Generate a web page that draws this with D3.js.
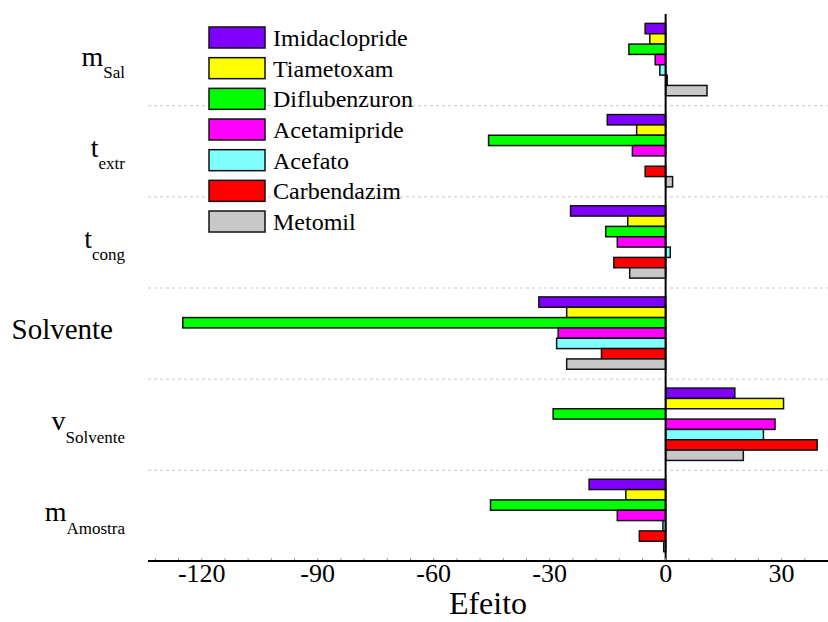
<!DOCTYPE html>
<html>
<head>
<meta charset="utf-8">
<script src="https://cdn.jsdelivr.net/npm/d3@7"></script>
</head>
<body style="margin:0">
<script>
// factors (top to bottom), main letter + subscript
const factors = ['mSal', 'textr', 'tcong', 'Solvente', 'vSolvente', 'mAmostra'];
const factorMain = ['m', 't', 't', 'Solvente', 'v', 'm'];
const factorSub = ['Sal', 'extr', 'cong', '', 'Solvente', 'Amostra'];

const series = ['Imidaclopride', 'Tiametoxam', 'Diflubenzuron', 'Acetamipride', 'Acefato', 'Carbendazim', 'Metomil'];
const colors = ['#8000ff', '#ffff00', '#00ff00', '#ff00ff', '#80ffff', '#ff0000', '#c8c8c8'];

// effect per factor, one array per pesticide
const imidaclopride = [-5.3, -15.1, -24.6, -32.8, 17.9, -19.8];
const tiametoxam    = [-4.1, -7.5, -9.8, -25.6, 30.5, -10.3];
const diflubenzuron = [-9.5, -45.8, -15.5, -124.9, -29.1, -45.3];
const acetamipride  = [-2.7, -8.6, -12.5, -27.8, 28.3, -12.5];
const acefato       = [-1.5, 0, 1.2, -28.2, 25.3, -0.7];
const carbendazim   = [0.4, -5.3, -13.4, -16.6, 39.2, -6.8];
const metomil       = [10.7, 1.8, -9.3, -25.6, 20.1, -0.5];
const values = [imidaclopride, tiametoxam, diflubenzuron, acetamipride, acefato, carbendazim, metomil];

const xTicks = [-120, -90, -60, -30, 0, 30];

const W = 828, H = 622;
const margin = { top: 14, bottom: 61, left: 148, right: 0 };
const serif = '"Liberation Serif", "Times New Roman", serif';

const svg = d3.select('body').append('svg')
  .attr('width', W)
  .attr('height', H)
  .style('font-family', serif);

const x = d3.scaleLinear()
  .domain([-133.9, 42])
  .range([margin.left, W - margin.right]);

const yGroup = d3.scaleBand()
  .domain(factors)
  .range([margin.top, H - margin.bottom])
  .padding(0);

const yInner = d3.scaleBand()
  .domain(series)
  .range([0, yGroup.bandwidth()])
  .paddingInner(0)
  .paddingOuter(0.91);

// dotted separators between factor groups
svg.append('g')
  .selectAll('line')
  .data(factors.slice(1))
  .join('line')
  .attr('x1', margin.left)
  .attr('x2', W)
  .attr('y1', d => yGroup(d) + 0.5)
  .attr('y2', d => yGroup(d) + 0.5)
  .attr('stroke', '#c8c8c8')
  .attr('stroke-width', 1)
  .attr('stroke-dasharray', '3,3');

// bars
factors.forEach((f, i) => {
  const g = svg.append('g').attr('transform', `translate(0, ${yGroup(f)})`);
  g.selectAll('rect')
    .data(series.map((s, j) => ({ s, j, v: values[j][i] })))
    .join('rect')
    .attr('x', d => Math.min(x(0), x(d.v)))
    .attr('width', d => Math.abs(x(d.v) - x(0)))
    .attr('y', d => yInner(d.s))
    .attr('height', yInner.bandwidth())
    .attr('fill', d => colors[d.j])
    .attr('stroke', '#111')
    .attr('stroke-width', 1.5);
});

// zero line
svg.append('line')
  .attr('x1', x(0)).attr('x2', x(0))
  .attr('y1', margin.top).attr('y2', H - margin.bottom)
  .attr('stroke', '#000')
  .attr('stroke-width', 2);

// x axis: minor ticks, line, labels
const axisY = H - margin.bottom;
svg.append('g')
  .selectAll('line')
  .data(d3.range(-132, 42, 6))
  .join('line')
  .attr('x1', d => x(d)).attr('x2', d => x(d))
  .attr('y1', axisY - 3).attr('y2', axisY)
  .attr('stroke', '#999')
  .attr('stroke-width', 1);

svg.append('line')
  .attr('x1', margin.left).attr('x2', W)
  .attr('y1', axisY).attr('y2', axisY)
  .attr('stroke', '#000')
  .attr('stroke-width', 2);

svg.append('g')
  .selectAll('text')
  .data(xTicks)
  .join('text')
  .attr('x', d => x(d))
  .attr('y', axisY + 21)
  .attr('text-anchor', 'middle')
  .style('font-size', '26px')
  .text(d => String(d));

svg.append('text')
  .attr('x', (margin.left + W) / 2)
  .attr('y', 614)
  .attr('text-anchor', 'middle')
  .style('font-size', '32px')
  .text('Efeito');

// factor labels
factors.forEach((f, i) => {
  const cy = yGroup(f) + yGroup.bandwidth() / 2 + 6;
  const t = svg.append('text')
    .attr('x', factorSub[i] ? 125 : 113)
    .attr('y', cy)
    .attr('text-anchor', 'end')
    .style('font-size', factorSub[i] ? '28px' : '29px');
  t.append('tspan').text(factorMain[i]);
  if (factorSub[i]) {
    t.append('tspan')
      .attr('dy', 12.5)
      .style('font-size', '17px')
      .text(factorSub[i]);
  }
});

// legend
const legend = svg.append('g').attr('transform', 'translate(209, 27)');
const row = legend.selectAll('g')
  .data(series)
  .join('g')
  .attr('transform', (d, i) => `translate(0, ${i * 30.67})`);
row.append('rect')
  .attr('width', 56)
  .attr('height', 21)
  .attr('fill', (d, i) => colors[i])
  .attr('stroke', '#111')
  .attr('stroke-width', 1.5);
row.append('text')
  .attr('x', 64)
  .attr('y', 19)
  .style('font-size', '24px')
  .text(d => d);
</script>
</body>
</html>
